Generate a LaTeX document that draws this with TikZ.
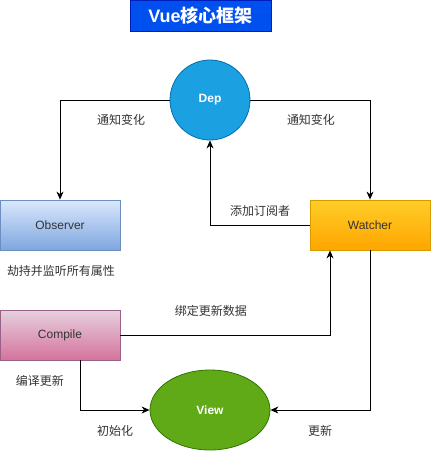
\documentclass[tikz,border=0pt]{standalone}
\usepackage{fontspec}
\setmainfont{Liberation Sans}
\newfontfamily\cjk{Noto Sans CJK SC}
\usetikzlibrary{arrows.meta,shapes.geometric}
\definecolor{titlefill}{HTML}{0050EF}
\definecolor{titledraw}{HTML}{001DBC}
\definecolor{depfill}{HTML}{1BA1E2}
\definecolor{depdraw}{HTML}{006EAF}
\definecolor{obstop}{HTML}{DAE8FC}
\definecolor{obsbot}{HTML}{7EA6E0}
\definecolor{obsdraw}{HTML}{6C8EBF}
\definecolor{wattop}{HTML}{FFCD28}
\definecolor{watbot}{HTML}{FFA500}
\definecolor{watdraw}{HTML}{D79B00}
\definecolor{cmptop}{HTML}{E6D0DE}
\definecolor{cmpbot}{HTML}{D5739D}
\definecolor{cmpdraw}{HTML}{996185}
\definecolor{viewfill}{HTML}{60A917}
\definecolor{viewdraw}{HTML}{2D7600}
\definecolor{txt}{HTML}{333333}
\begin{document}
\begin{tikzpicture}[x=1pt,y=-1pt,
  font=\fontsize{12}{14}\selectfont,
  box/.style={minimum width=120pt,minimum height=50pt,inner sep=0pt,line width=0.8pt,text=txt},
  arr/.style={-{Stealth[length=8pt,width=7pt,inset=2.5pt]},line width=0.9pt,black},
  lbl/.style={font=\cjk\fontsize{12}{14}\selectfont,inner sep=0pt,text=txt}]
\useasboundingbox (0,0) rectangle (431,451);
\node[fill=titlefill,draw=titledraw,line width=0.8pt,minimum width=141pt,minimum height=31pt,inner sep=0pt,text=white,font=\fontsize{18}{20}\selectfont\bfseries] (title) at (200.5,15.5) {Vue{\cjk\bfseries 核心框架}};
\node[circle,fill=depfill,draw=depdraw,line width=0.8pt,minimum size=80pt,inner sep=0pt,text=white,font=\fontsize{12}{14}\selectfont\bfseries] (dep) at (210,100) {Dep};
\node[box,draw=obsdraw,top color=obstop,bottom color=obsbot] (obs) at (60,225) {Observer};
\node[box,draw=watdraw,top color=wattop,bottom color=watbot] (wat) at (370,225) {Watcher};
\node[box,draw=cmpdraw,top color=cmptop,bottom color=cmpbot] (cmp) at (60,335) {Compile};
\node[ellipse,fill=viewfill,draw=viewdraw,line width=0.8pt,minimum width=120pt,minimum height=80pt,inner sep=0pt,text=white,font=\fontsize{12}{14}\selectfont\bfseries] (view) at (210,410) {View};
\draw[arr] (dep.west) -| (obs.north);
\draw[arr] (dep.east) -| (wat.north);
\draw[arr] (wat.west) -| (dep.south);
\draw[arr] (cmp.east) -| ([xshift=-40pt]wat.south);
\draw[arr] (wat.south) |- (view.east);
\draw[arr] ([xshift=20pt]cmp.south) |- (view.west);
\node[lbl] (l1) at (121,120) {通知变化};
\node[lbl] (l2) at (311,120) {通知变化};
\node[lbl] (l3) at (260,211) {添加订阅者};
\node[lbl] (l4) at (61,271) {劫持并监听所有属性};
\node[lbl] (l5) at (211,311) {绑定更新数据};
\node[lbl] (l6) at (40,381) {编译更新};
\node[lbl] (l7) at (115,431) {初始化};
\node[lbl] (l8) at (320,431) {更新};
\end{tikzpicture}
\end{document}
